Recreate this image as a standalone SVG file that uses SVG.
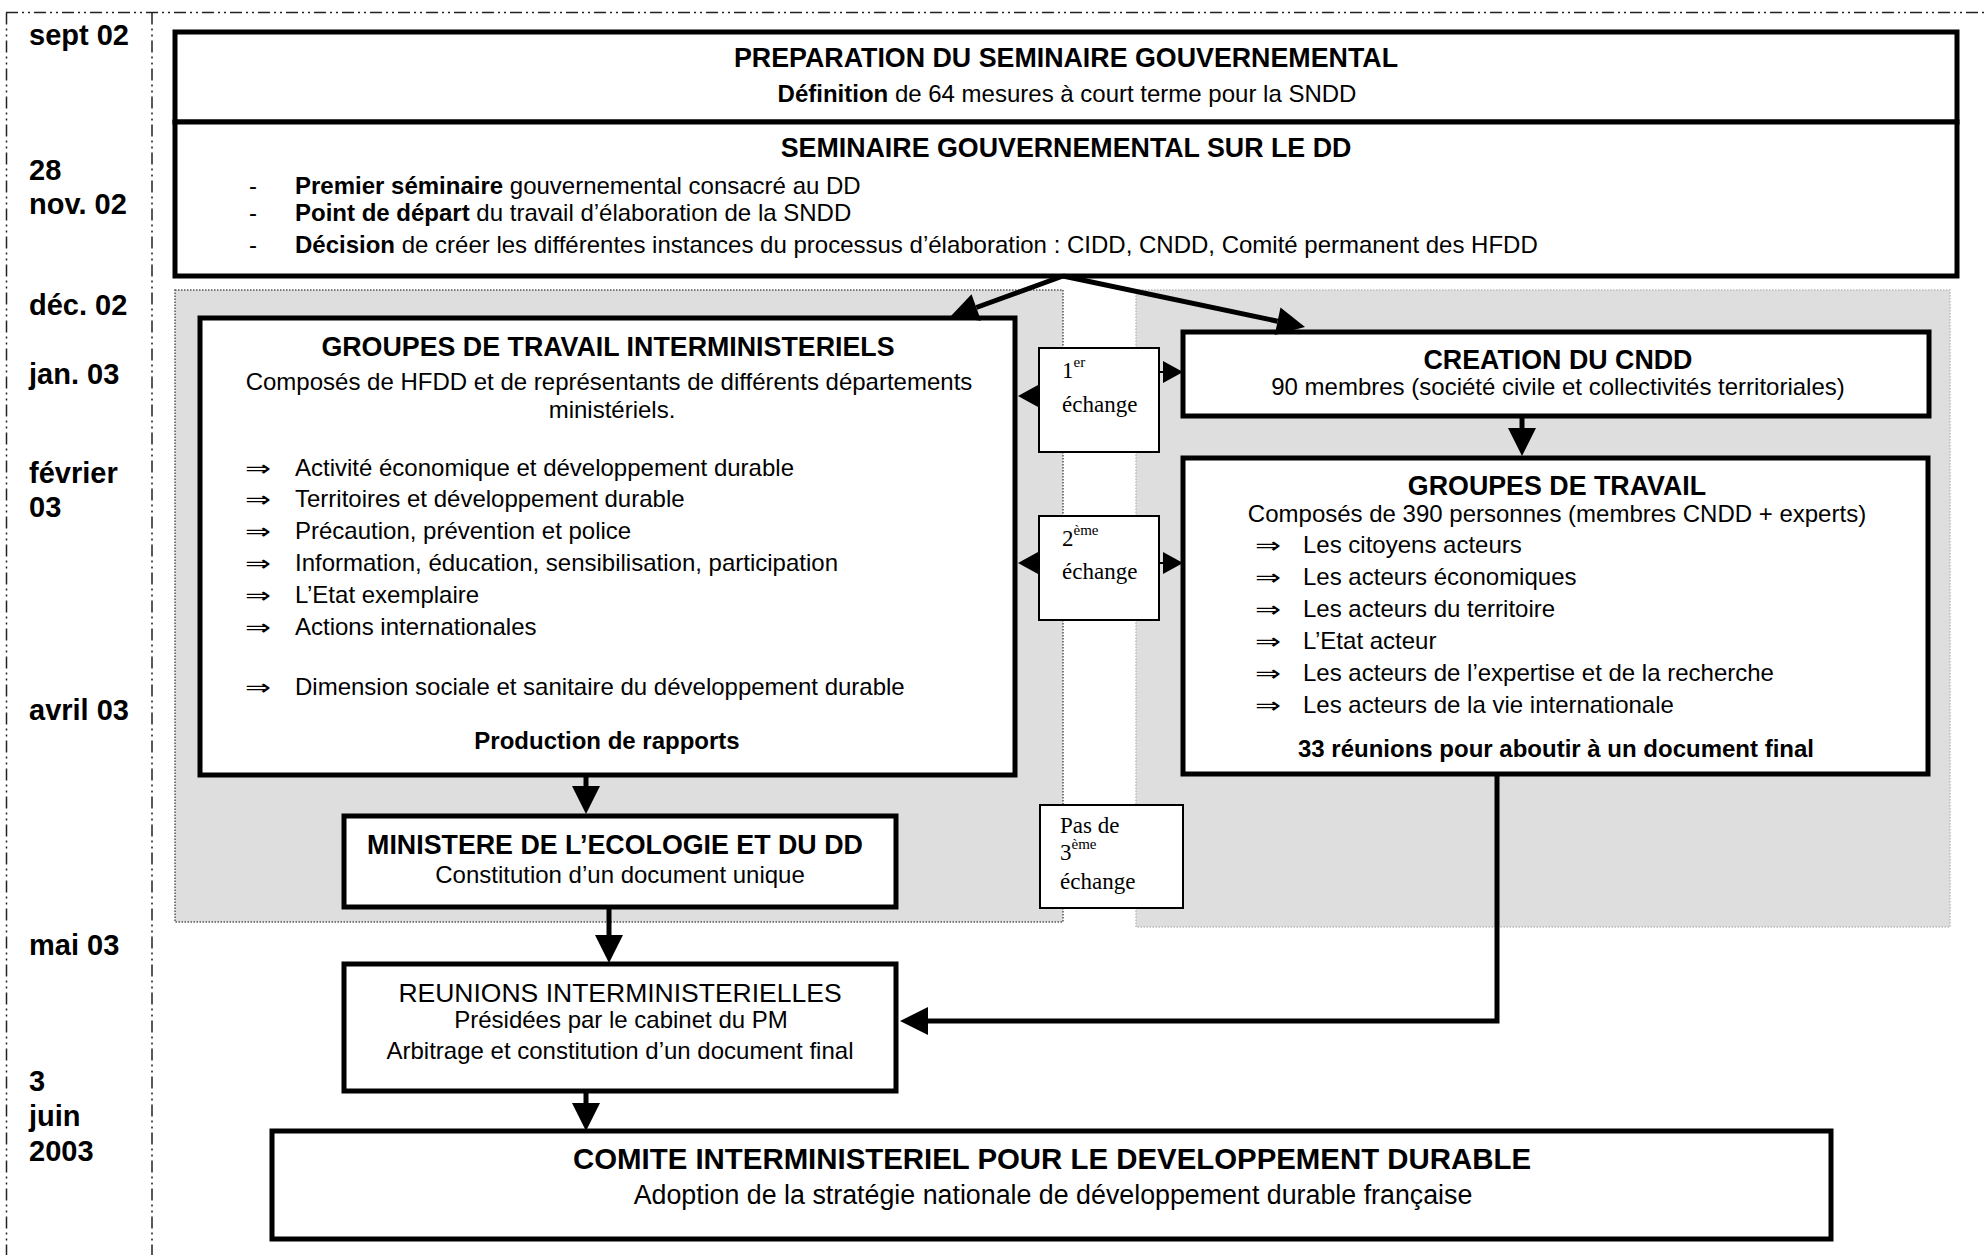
<svg xmlns="http://www.w3.org/2000/svg" width="1984" height="1255" viewBox="0 0 1984 1255">
<style>
.sans{font-family:"Liberation Sans",Arial,sans-serif;fill:#000}
.date{font-family:"Liberation Sans",Arial,sans-serif;font-weight:bold;font-size:29px;fill:#000}
.ttl{font-family:"Liberation Sans",Arial,sans-serif;font-weight:bold;font-size:26.8px;text-anchor:middle;fill:#000}
.txt{font-family:"Liberation Sans",Arial,sans-serif;font-size:24px;fill:#000}
.mid{text-anchor:middle}
.b{font-weight:bold}
.arr{font-family:"DejaVu Sans",sans-serif;font-size:22px;fill:#000}
.ser{font-family:"Liberation Serif","Times New Roman",serif;font-size:23px;fill:#000}
.sup{font-size:15px}
.box{fill:#fff;stroke:#000;stroke-width:5}
.ex{fill:#fff;stroke:#000;stroke-width:2}
.frame{stroke:#222;stroke-width:1.5;fill:none;stroke-dasharray:12 4 2 4 2 4}
.zoneL{fill:#dedede;stroke:#555;stroke-width:1.5;stroke-dasharray:1.5 1.5}
.zoneR{fill:#dedede;stroke:#bbb;stroke-width:1.5;stroke-dasharray:1.5 1.5}
.conn{stroke:#000;stroke-width:5;fill:none}
.thin{stroke:#000;stroke-width:2;fill:none}
.big{font-size:29.4px}
.sub2{font-size:26.8px}
</style>
<defs>
<marker id="big" markerUnits="userSpaceOnUse" markerWidth="28" markerHeight="28" refX="0" refY="14" orient="auto" overflow="visible"><path d="M0,0 L28,14 L0,28 z" fill="#000"/></marker>
<marker id="small" markerUnits="userSpaceOnUse" markerWidth="20" markerHeight="22" refX="0" refY="11" orient="auto" overflow="visible"><path d="M0,0 L20,11 L0,22 z" fill="#000"/></marker>
</defs>
<rect width="1984" height="1255" fill="#fff"/>
<g id="frame">
<line class="frame" x1="6" y1="12.5" x2="1984" y2="12.5"/>
<line class="frame" x1="6.5" y1="12.5" x2="6.5" y2="1255"/>
<line class="frame" x1="152" y1="12.5" x2="152" y2="1255"/>
</g>
<g id="dates">
<text class="date" x="29" y="45">sept 02</text>
<text class="date" x="29" y="180">28</text>
<text class="date" x="29" y="214">nov. 02</text>
<text class="date" x="29" y="315">déc. 02</text>
<text class="date" x="29" y="384">jan. 03</text>
<text class="date" x="29" y="483">février</text>
<text class="date" x="29" y="517">03</text>
<text class="date" x="29" y="720">avril 03</text>
<text class="date" x="29" y="955">mai 03</text>
<text class="date" x="29" y="1091">3</text>
<text class="date" x="29" y="1126">juin</text>
<text class="date" x="29" y="1161">2003</text>
</g>
<g id="zones">
<rect class="zoneL" x="175" y="290" width="888" height="632"/>
<rect class="zoneR" x="1136" y="290" width="814" height="637"/>
</g>
<g id="preparation">
<rect class="box" x="175" y="32" width="1782" height="90"/>
<text class="ttl" x="1066" y="67">PREPARATION DU SEMINAIRE GOUVERNEMENTAL</text>
<text class="txt mid" x="1067" y="102"><tspan class="b">Définition</tspan> de 64 mesures à court terme pour la SNDD</text>
</g>
<g id="seminaire">
<rect class="box" x="175" y="122" width="1782" height="154"/>
<text class="ttl" x="1066" y="157">SEMINAIRE GOUVERNEMENTAL SUR LE DD</text>
<text class="txt" x="249" y="194">-</text>
<text class="txt" x="295" y="194"><tspan class="b">Premier séminaire</tspan> gouvernemental consacré au DD</text>
<text class="txt" x="249" y="221">-</text>
<text class="txt" x="295" y="221"><tspan class="b">Point de départ</tspan> du travail d’élaboration de la SNDD</text>
<text class="txt" x="249" y="253">-</text>
<text class="txt" x="295" y="253"><tspan class="b">Décision</tspan> de créer les différentes instances du processus d’élaboration : CIDD, CNDD, Comité permanent des HFDD</text>
</g>
<g id="gti">
<rect class="box" x="200" y="318" width="815" height="457"/>
<text class="ttl" x="608" y="356">GROUPES DE TRAVAIL INTERMINISTERIELS</text>
<text class="txt mid" x="609" y="390">Composés de HFDD et de représentants de différents départements</text>
<text class="txt mid" x="612" y="418">ministériels.</text>
<text class="arr" x="245" y="476" textLength="26" lengthAdjust="spacingAndGlyphs">⇒</text><text class="txt" x="295" y="476">Activité économique et développement durable</text>
<text class="arr" x="245" y="507" textLength="26" lengthAdjust="spacingAndGlyphs">⇒</text><text class="txt" x="295" y="507">Territoires et développement durable</text>
<text class="arr" x="245" y="539" textLength="26" lengthAdjust="spacingAndGlyphs">⇒</text><text class="txt" x="295" y="539">Précaution, prévention et police</text>
<text class="arr" x="245" y="571" textLength="26" lengthAdjust="spacingAndGlyphs">⇒</text><text class="txt" x="295" y="571">Information, éducation, sensibilisation, participation</text>
<text class="arr" x="245" y="603" textLength="26" lengthAdjust="spacingAndGlyphs">⇒</text><text class="txt" x="295" y="603">L’Etat exemplaire</text>
<text class="arr" x="245" y="635" textLength="26" lengthAdjust="spacingAndGlyphs">⇒</text><text class="txt" x="295" y="635">Actions internationales</text>
<text class="arr" x="245" y="695" textLength="26" lengthAdjust="spacingAndGlyphs">⇒</text><text class="txt" x="295" y="695">Dimension sociale et sanitaire du développement durable</text>
<text class="txt mid b" x="607" y="749">Production de rapports</text>
</g>
<g id="echange1">
<rect class="ex" x="1039" y="348" width="120" height="104"/>
<text class="ser" x="1062" y="378">1<tspan class="sup" dy="-11">er</tspan></text>
<text class="ser" x="1062" y="412">échange</text>
</g>
<g id="echange2">
<rect class="ex" x="1039" y="516" width="120" height="104"/>
<text class="ser" x="1062" y="546">2<tspan class="sup" dy="-11">ème</tspan></text>
<text class="ser" x="1062" y="579">échange</text>
</g>
<g id="echange3">
<rect class="ex" x="1040" y="805" width="143" height="103"/>
<text class="ser" x="1060" y="833">Pas de</text>
<text class="ser" x="1060" y="860">3<tspan class="sup" dy="-11">ème</tspan></text>
<text class="ser" x="1060" y="889">échange</text>
</g>
<g id="cndd">
<rect class="box" x="1183" y="332" width="746" height="84"/>
<text class="ttl" x="1558" y="369">CREATION DU CNDD</text>
<text class="txt mid" x="1558" y="395">90 membres (société civile et collectivités territoriales)</text>
</g>
<g id="gt">
<rect class="box" x="1183" y="458" width="745" height="316"/>
<text class="ttl" x="1557" y="495">GROUPES DE TRAVAIL</text>
<text class="txt mid" x="1557" y="522">Composés de 390 personnes (membres CNDD + experts)</text>
<text class="arr" x="1255" y="553" textLength="26" lengthAdjust="spacingAndGlyphs">⇒</text><text class="txt" x="1303" y="553">Les citoyens acteurs</text>
<text class="arr" x="1255" y="585" textLength="26" lengthAdjust="spacingAndGlyphs">⇒</text><text class="txt" x="1303" y="585">Les acteurs économiques</text>
<text class="arr" x="1255" y="617" textLength="26" lengthAdjust="spacingAndGlyphs">⇒</text><text class="txt" x="1303" y="617">Les acteurs du territoire</text>
<text class="arr" x="1255" y="649" textLength="26" lengthAdjust="spacingAndGlyphs">⇒</text><text class="txt" x="1303" y="649">L’Etat acteur</text>
<text class="arr" x="1255" y="681" textLength="26" lengthAdjust="spacingAndGlyphs">⇒</text><text class="txt" x="1303" y="681">Les acteurs  de l’expertise et de la recherche</text>
<text class="arr" x="1255" y="713" textLength="26" lengthAdjust="spacingAndGlyphs">⇒</text><text class="txt" x="1303" y="713">Les acteurs de la vie internationale</text>
<text class="txt mid b" x="1556" y="757">33 réunions pour aboutir à un document final</text>
</g>
<g id="ministere">
<rect class="box" x="344" y="816" width="552" height="91"/>
<text class="ttl" x="615" y="854">MINISTERE DE L’ECOLOGIE ET DU DD</text>
<text class="txt mid" x="620" y="883">Constitution d’un document unique</text>
</g>
<g id="reunions">
<rect class="box" x="344" y="964" width="552" height="127"/>
<text class="sans mid" font-size="26.5" x="620" y="1002">REUNIONS INTERMINISTERIELLES</text>
<text class="txt mid" x="621" y="1028">Présidées par le cabinet du PM</text>
<text class="txt mid" x="620" y="1059">Arbitrage et constitution d’un document final</text>
</g>
<g id="cidd">
<rect class="box" x="272" y="1131" width="1559" height="108"/>
<text class="ttl big" x="1052" y="1169">COMITE INTERMINISTERIEL POUR LE DEVELOPPEMENT DURABLE</text>
<text class="txt mid sub2" x="1053" y="1204">Adoption de la stratégie nationale de développement durable française</text>
</g>
<g id="connectors">
<path class="conn" d="M1063,276 L976.3,307.5" marker-end="url(#big)"/>
<path class="conn" d="M1063,276 L1277.6,321.2" marker-end="url(#big)"/>
<path class="conn" d="M1522,417 L1522,428" marker-end="url(#big)"/>
<path class="conn" d="M586,775 L586,786" marker-end="url(#big)"/>
<path class="conn" d="M609,908 L609,935" marker-end="url(#big)"/>
<path class="conn" d="M1497,775 L1497,1021 L928,1021" marker-end="url(#big)"/>
<path class="conn" d="M586,1091 L586,1103" marker-end="url(#big)"/>
<path class="thin" d="M1039,396 L1038,396" marker-end="url(#small)"/>
<path class="thin" d="M1159,372 L1163,372" marker-end="url(#small)"/>
<path class="thin" d="M1039,563 L1038,563" marker-end="url(#small)"/>
<path class="thin" d="M1159,563 L1163,563" marker-end="url(#small)"/>
</g>
</svg>
